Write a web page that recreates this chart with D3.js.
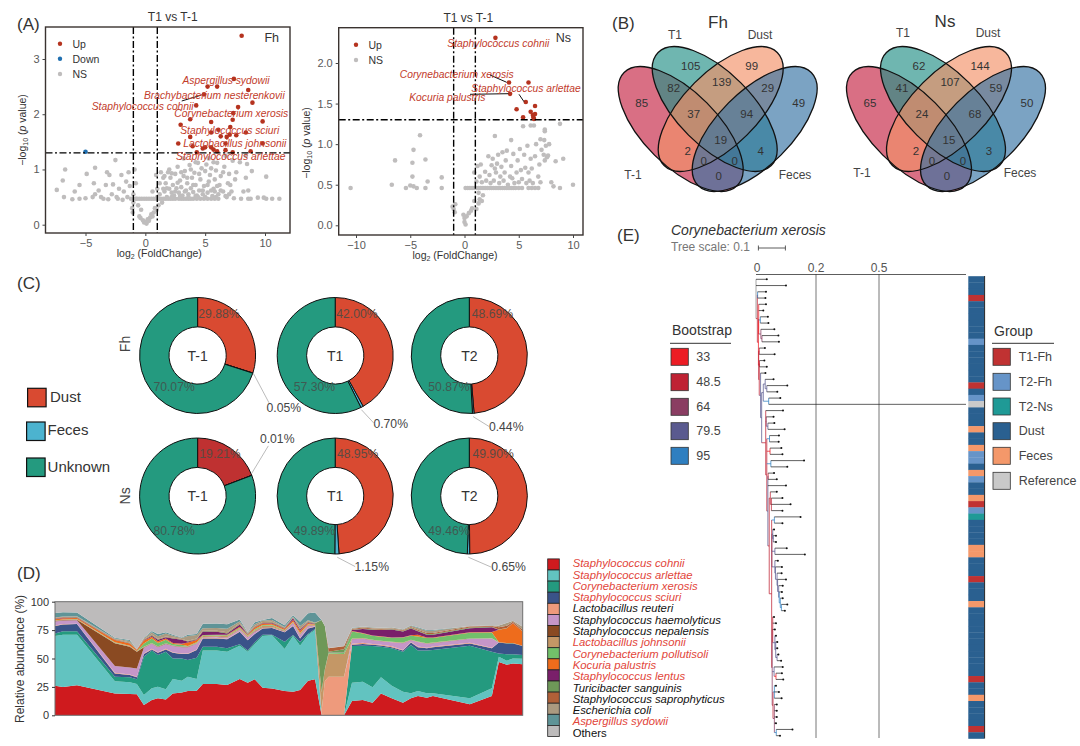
<!DOCTYPE html>
<html><head><meta charset="utf-8">
<script src="https://cdn.jsdelivr.net/npm/d3@7"></script>
<style>html,body{margin:0;padding:0;background:#fff}svg{display:block}text{font-family:"Liberation Sans",Arial,sans-serif}</style>
</head><body><svg id="c" width="1080" height="746"></svg>
<script>
// ---------- Panel A data ----------
const fhUp = [[8.05,3.42],[7.4,2.64],[5.2,2.5],[6,2.5],[8.6,2.44],[4.9,2.36],[8.95,2.21],[4.25,2.16],[7.75,2.13],[7.35,2.02],[7.3,1.9],[3.75,1.91],[5.5,1.86],[9.8,1.87],[2.95,1.81],[7.1,1.77],[6.1,1.72],[5.5,1.67],[8.4,1.67],[7.6,1.62],[7.05,1.63],[6.3,1.6],[6.8,1.59],[3.75,1.59],[6.7,1.47],[9.8,1.47],[2.75,1.47],[3.95,1.42],[5.5,1.4],[4.8,1.38],[5.7,1.36],[6.7,1.35],[6,1.33],[4.3,1.31],[7.3,1.31],[8.8,1.33],[5,1.4]];
const fhDown = [[-5,1.32]];
const fhNS = [[-7.4,.63],[-6.8,.5],[-6.7,1],[-6.9,.8],[-6.1,.46],[-5.9,.6],[-5.5,.47],[-5.5,.72],[-5,.48],[-4.9,.92],[-4.4,.5],[-4.3,.75],[-4.2,.55],[-4.2,1.03],[-3.9,.62],[-3.7,.5],[-3.5,.47],[-3.3,.72],[-3.1,.46],[-3.2,.95],[-3,.9],[-2.8,.55],[-2.7,.73],[-2.5,1.17],[-2.4,.5],[-2.3,.47],[-2.2,.65],[-2,.9],[-1.9,.45],[-1.8,.6],[-1.6,.78],[-1.5,.5],[-1.4,.95],[-1.3,.7],[-1.2,.47],[-1.1,.3],[-1.05,.22],[-1,.4],[-1,.55],[-.9,1],[-.8,.75],[-.7,.47],[-.6,.35],[-.5,.15],[-.4,.12],[-.35,.27],[-.2,.08],[-.1,.04],[0,.05],[.1,.02],[.2,.1],[.3,.07],[.4,.13],[.5,.19],[.6,.15],[.7,.22],[.8,.3],[.95,.27],[-.8,.47],[-.5,.47],[-.3,.47],[-.1,.47],[.1,.47],[.3,.47],[.5,.47],[.7,.47],[.9,.47],[1.1,.47],[1.3,.47],[1.5,.47],[1.7,.47],[1.9,.47],[2.1,.47],[2.3,.47],[2.5,.47],[2.8,.47],[3,.47],[3.2,.47],[3.4,.47],[3.6,.47],[3.8,.47],[4,.47],[4.3,.47],[4.6,.47],[4.9,.47],[5.2,.47],[5.5,.47],[5.8,.47],[6.1,.47],[.9,.9],[1,.65],[1.1,.35],[1.2,.55],[1.2,.75],[1.3,.95],[1.4,.4],[1.5,.65],[1.5,.85],[1.6,.6],[1.7,.75],[1.8,.5],[1.9,.95],[2,.65],[2,1],[2.1,.85],[2.2,.58],[2.3,.72],[2.4,.53],[2.5,.92],[2.6,.66],[2.7,1.05],[2.8,.58],[2.9,.8],[3,.68],[3.1,.53],[3.2,.88],[3.3,.97],[3.4,.62],[3.5,.75],[3.6,.55],[3.7,1.08],[3.8,.66],[3.9,.85],[4,.59],[4.1,.94],[4.2,.72],[4.3,.53],[4.4,1.12],[4.5,.62],[4.6,.82],[4.7,1.02],[4.8,.55],[4.9,.7],[5,.97],[5.1,1.09],[5.2,.58],[5.3,.78],[5.4,.9],[5.5,1.02],[5.6,.52],[5.7,.65],[5.8,.82],[5.9,.98],[6,1.12],[6.1,.55],[6.2,.72],[6.3,.88],[6.5,.6],[6.6,1.05],[6.8,.5],[6.9,.75],[7,.92],[7.2,.6],[7.3,1.16],[7.4,.48],[7.5,.82],[7.6,.95],[7.9,1.13],[8,.47],[8.2,.6],[8.4,.85],[8.5,1.1],[8.6,.47],[8.9,.97],[9.4,.49],[9.9,.49],[10.1,.47],[10.6,.47],[10.1,.87],[11.2,.47],[5.3,1.2],[5.7,1.13],[4.2,1.13],[3.2,1.2],[6.7,1.25],[8.4,1.25],[8.6,.62],[8.8,.47],[1.6,.88],[1.8,.66],[2.2,.93],[2.5,.6],[2.7,.76],[3,.95],[3.3,.6],[3.5,.85],[3.8,1],[4,.72],[4.2,.52],[4.5,.92],[4.8,.62],[5,.5],[5.2,.72],[5.5,.62],[5.8,.6],[6,.7],[6.3,.62],[6.5,.95],[6.7,.52],[7,.55],[7.1,.72],[2.2,.5],[2.9,.52],[3.6,.5],[4.4,.5],[5.9,.5],[.6,.6],[1,.5]];
const nsUp = [[2.85,2.31],[5.9,1.76],[4.1,1.76],[4.2,1.62],[5.65,1.52],[6.5,1.47],[4.8,1.43],[6.1,1.4],[6.5,1.37],[6.3,1.36],[5.4,1.33],[6.35,1.33],[6.4,1.31]];
const nsNS = [[-10.5,.46],[-6.7,.5],[-6.4,.8],[-5.4,.46],[-5,.49],[-4.8,.77],[-4.8,.6],[-4.7,.93],[-4.7,.48],[-4.4,.46],[-4.1,1.11],[-3.6,.46],[-3.6,.81],[-3.4,.54],[-2.1,.46],[-2.1,.59],[-1.1,.23],[-1,.2],[-.9,.16],[-.85,.26],[-.1,.13],[0,.09],[0,.04],[.1,.01],[.2,.11],[.4,.15],[.6,.18],[.7,.21],[.9,.3],[1.1,.2],[1.3,.27],[1.4,.32],[1.7,.37],[.1,.46],[.3,.46],[.5,.46],[.7,.46],[.9,.46],[1.1,.46],[1.3,.46],[1.5,.46],[1.7,.46],[1.9,.46],[2.1,.46],[2.3,.46],[2.5,.46],[2.7,.46],[2.9,.46],[3.1,.46],[3.3,.46],[3.5,.46],[3.7,.46],[3.9,.46],[4.1,.46],[4.3,.46],[4.5,.46],[4.7,.46],[5,.46],[5.3,.46],[5.9,.46],[6.2,.46],[6.5,.46],[6.8,.46],[.9,.65],[1.1,.54],[1.2,.73],[1.4,.6],[1.5,.75],[1.6,.53],[1.9,.66],[2,.55],[2.2,.85],[2.3,.62],[2.4,.52],[2.5,.74],[2.6,.82],[2.7,.55],[2.8,.7],[2.9,.65],[3,.76],[3.1,.87],[3.2,.52],[3.3,.6],[3.4,.72],[3.5,.9],[3.6,.55],[3.7,.65],[3.8,.8],[3.9,.92],[4,.5],[4.2,.6],[4.3,.73],[4.4,.58],[4.5,.88],[4.6,.52],[4.8,.65],[4.9,.8],[5,.53],[5.1,.94],[5.2,.68],[5.3,.57],[5.5,.87],[5.6,.71],[5.7,.52],[5.8,.98],[5.9,.65],[6,.55],[6.1,.82],[6.2,.7],[6.3,.52],[6.5,.85],[6.6,1],[6.8,.6],[6.9,.75],[7,1.06],[7,.53],[7.1,.93],[7.3,.87],[7.35,1.05],[7.4,.8],[7.4,1.16],[7.5,.98],[7.6,.84],[7.7,.86],[7.8,1],[8,.53],[8.2,.48],[8.4,.79],[8.8,.46],[9.1,.82],[10,.5],[5.4,1.22],[6.1,1.23],[6.4,1.23],[8.8,1.25],[7.4,1.18],[4.3,1.05],[2.8,1.1],[1.6,.3],[1.3,.4]];
const fhLabels = ["Aspergillus sydowii","Brachybacterium nesterenkovii","Staphylococcus cohnii","Corynebacterium xerosis","Staphylococcus sciuri","Lactobacillus johnsonii","Staphylococcus arlettae"];
const nsLabels = ["Staphylococcus cohnii","Corynebacterium xerosis","Staphylococcus arlettae","Kocuria palustris"];

// ---------- Panel B data ----------
const vennSets = ["T-1","T1","Dust","Feces"];
const vennFh = [85,105,99,49,82,139,29,37,94,2,19,4,0,0,0];
const vennNs = [65,62,144,50,41,107,59,24,68,2,15,3,0,0,0];

// ---------- Panel C data ----------
const sourceNames = ["Dust","Feces","Unknown"];
const donutFh = [[29.88,0.05,70.07],[42.00,0.70,57.30],[48.69,0.44,50.87]];
const donutNs = [[19.21,0.01,80.78],[48.95,1.15,49.89],[49.90,0.65,49.46]];
const donutTimes = ["T-1","T1","T2"];
const donutLabelsFh = [["29.88%","0.05%","70.07%"],["42.00%","0.70%","57.30%"],["48.69%","0.44%","50.87%"]];
const donutLabelsNs = [["19.21%","0.01%","80.78%"],["48.95%","1.15%","49.89%"],["49.90%","0.65%","49.46%"]];

// ---------- Panel D data ----------
const taxa = ["Staphylococcus cohnii","Staphylococcus arlettae","Corynebacterium xerosis","Staphylococcus sciuri","Lactobacillus reuteri","Staphylococcus haemolyticus","Staphylococcus nepalensis","Lactobacillus johnsonii","Corynebacterium pollutisoli","Kocuria palustris","Staphylococcus lentus","Turicibacter sanguinis","Staphylococcus saprophyticus","Escherichia coli","Aspergillus sydowii","Others"];
const taxaHighlighted = [1,1,1,1,0,0,0,1,1,1,1,0,0,0,1,0];
const samplePosition = [0,1.7,4.7,12.8,16,17.5,19,20.7,22,23.7,25.2,27.1,28.4,30.3,31.6,34.6,36.8,39.5,41.2,42.7,44.4,46.4,49.1,50.9,52.4,54.1,55.6,57,57.7,58.5,61.8,63.5,65.8,67.9,69.7,72,74.4,76.1,77.6,79.5,80.8,88.7,93.4,94.9,96.6,97.9,100];
const cohnii = [26,25,26.4,19.3,18.8,18.5,9,13.5,15,14,19.3,20,21.4,21.7,27.5,27.5,26.7,32,28.7,31.7,24.3,23.7,21.4,20.8,22.3,30.5,31.7,0,0,0,0,12.6,13.5,11,19.3,15,11,15,17,15.5,17,9.7,17,47,44.6,45.5,45];
const arlettae = [43.8,46,44.6,10.6,10.2,9,8.9,10.3,10.2,8.9,12.7,10.5,12.6,10.3,29.5,29.5,29.3,29.3,27.3,30.8,45.5,46.7,37,49,39,40.2,43.3,0,0,0,0,16.1,16.1,13.6,14.1,11,9.8,4.4,4.4,3.9,2.4,5.3,6.8,4.6,3.4,4.5,4.8];
const xerosis = [2.2,3,3,4,4.4,4.2,33.7,33.2,27.8,33.1,18,19.5,14.7,18.7,3.4,3.4,3,1.2,1,1.5,1.2,.6,6.4,.9,3.2,.8,1,.3,.1,.1,.1,32.3,31.7,36.4,27,33,35.2,42.5,35.6,37.6,38.1,46.3,32.2,2.9,5.7,3.7,3.2];
const sciuri = [6.6,6,6.3,3,2.1,1.7,2.4,1,2,2,5,4,5.3,6.8,7.3,7.3,8,11.1,9,7.5,5.5,5.9,8.2,7.9,3.2,5,2,.2,.1,.1,.1,1,1.5,1,1,1,1,2.1,3,2,2.5,2,3,9.5,9.6,9.6,8];
const reuteri = [.4,.4,.4,.5,.5,.5,.5,.5,.5,.5,.5,.5,.5,.5,.5,.5,.4,.4,.4,.3,.3,.3,.4,.4,.4,.4,.3,3,30,33.8,33.8,1,1,.8,.8,.7,.5,.5,.5,.5,.5,.5,.5,0,0,0,0];
const haemolyticus = [3.5,3,3,6,6,7.4,5,4.5,4.5,4.3,5.5,5.5,5.5,5,.4,.7,1,1.2,2.2,1.8,.3,.3,.4,2.2,2.6,1.7,.5,0,0,0,0,4,3.5,3.2,3,3.5,6,1.5,4,3.5,3,3.5,8,0,0,0,0];
const nepalensis = [.5,.5,.5,20,18.4,14.7,.5,.3,.3,.3,.3,.3,.3,.3,.3,.3,.3,.3,.2,.3,.3,.3,.3,.3,.3,.3,.2,0,0,0,0,.2,.2,.2,.2,.2,.2,.2,.1,.2,.2,.2,.2,.1,.1,.1,.1];
const johnsonii = [.3,.3,.3,.5,.5,.3,.3,.3,.3,.3,.2,.2,.2,.3,1,1,1.2,1,1,1,1.5,1.3,.6,.6,1,1,.5,17,10,20.5,20,.5,.5,.3,.3,.3,.3,.3,.3,.3,.3,.2,.2,.1,.1,.1,.1];
const pollutisoli = [.2,.2,.2,.3,.3,.2,3,4,3,3.2,1.2,1.5,.5,.7,.5,.5,.5,.5,.5,.8,.5,.5,.3,.3,.5,.3,.2,.2,.2,.5,1,6,4,3.5,3.5,3.5,4.5,3.5,4.5,4.5,4,5,5,.1,.1,.1,.1];
const palustris = [1,1,1,2,2,1,2.5,1.5,1.5,1,1,1,3,2,.3,.3,.4,1,.5,1.5,1.5,1.3,1.2,1.5,2,1,.5,.1,.1,.1,.1,.5,.5,.3,.3,.3,.3,.5,1.5,.5,.5,.5,.5,11,13,17.5,12.4];
const lentus = [.5,.5,.5,.3,.3,.2,.5,1,1.5,1,4,3.5,1,.5,3,2.5,1.3,2,.5,.5,.3,.5,.5,1.5,1,.8,.3,.1,.1,.1,.1,.8,3.5,5,5.5,7,5,6,3,2.5,2.5,3.5,4,.1,.1,.1,.1];
const sanguinis = [.3,.3,.3,.3,.3,.1,.3,.5,.4,.4,.4,.3,.4,.4,.5,.5,.5,.5,.4,.5,.5,.5,.3,.3,.5,.4,.5,63,38,.8,3,.4,.5,.4,.4,.4,.4,.5,.5,.5,.5,.5,.5,.1,.1,.1,.1];
const saprophyticus = [.3,.3,.3,.3,.2,.1,.3,.5,.4,.4,.4,.3,.3,.4,.5,.5,.5,.5,.4,.5,.5,.5,.3,.3,.5,.4,.2,.1,.1,3,2.5,.6,.7,.8,.7,.6,.6,.8,1,1,1,1,.8,2,2,1,1.5];
const ecoli = [.5,.5,.5,.5,1.4,.2,1,2,2.2,2.5,1.5,1,4,3,2,2.3,3,1.5,.5,1.5,1.2,1.5,.5,.8,2,.8,.4,0,0,.2,.2,.7,.7,.8,.7,.7,.8,1,1.5,2,2,.3,.3,1.5,2.5,.9,2.5];
const sydowii = [4,3.8,3.2,.6,.9,.1,.3,1,1.9,1.2,1,.4,1.2,1,4,4,4,1.9,.4,1.8,.5,1.8,1.5,1.2,3.9,6.2,9,0,0,.1,.2,.3,.3,.3,.3,.3,.2,.5,.5,.5,.5,.2,.2,.1,.1,.1,.1];
const others = [9.9,9.2,9.5,31.7,33.7,41.8,31.8,25.9,28.5,26.9,29,31.5,29.1,28.4,19.3,19.2,19.9,15.6,27,18,16.1,14.3,20.7,12,17.6,10.2,9.4,16,21.3,40.7,38.9,23,21.8,22.4,22.9,22.5,24.2,20.7,22.6,25,25,21.3,20.8,20.7,18.6,16.7,22];
const abundanceSeries = [cohnii,arlettae,xerosis,sciuri,reuteri,haemolyticus,nepalensis,johnsonii,pollutisoli,palustris,lentus,sanguinis,saprophyticus,ecoli,sydowii,others];

// ---------- Panel E data ----------
const bootstrapLevels = ["33","48.5","64","79.5","95"];
const groupNames = ["T1-Fh","T2-Fh","T2-Ns","Dust","Feces","Reference"];
// each internal node: [distance from root, bootstrap level, children]; each leaf: its distance from root
const phylogeny = [0,5,[.04,.111,
 [.005,1,[
  [.006,4,[.037,.035]],
  [.009,0,[
   [.010,0,[.037,.027,
     [.016,4,[.044,.046]],
     [.018,2,[.068,[.022,2,[.083,.085]]]]
   ]],
   [.010,1,[
    [.012,1,[.033,.069]],
    [.012,1,[
     [.013,1,[.031,.04]],
     [.017,3,[.035,
      [.021,3,[
       [.027,3,[
        [.034,3,[.065,[.04,3,[.116,.079]]]],
        [.047,4,[.09,.778]]
       ]],
       [.036,1,[.1,
        [.038,2,[.065,[.044,3,[.068,.106]]]],
        [.04,1,[
         [.05,4,[.085,.084]],
         [.052,0,[.094,.098]],
         [.055,4,[.178,.116]],
         [.044,3,[
          [.045,1,[.067,.077]],
          .111,
          [.049,1,[
           [.053,1,[.077,[.057,1,[.098,.128,.098]]]],
           [.058,1,[
            [.068,4,[.165,.098]],
            [.059,2,[
             [.062,3,[.067,[.064,3,[.074,.074]]]],
             [.07,3,[.114,.181]],
             [.07,3,[.081,[.072,3,[.096,[.078,3,[.095,[.08,3,[.111,[.084,3,[.099,[.086,4,[.096,[.09,4,[.099,[.094,4,[.116,.107]]]]]]]]]]]]]]]]
            ]],
            [.06,2,[
             [.062,1,[.067,.074,.07,[.07,3,[.074,[.073,3,[.079,.079,[.078,3,[.083,.093]]]]]]]],
             [.067,3,[.099,[.074,0,[.096,.101]]]],
             [.063,1,[
              [.068,4,[.074,.085,.095]],
              [.068,2,[.077,.077,.077,.074,[.075,4,[.135,.089]]]]
             ]]
            ]]
           ]]
          ]]
         ]]
        ]]
       ]]
      ]]
     ]]
    ]]
   ]]
  ]]
 ]]
]];
const leafGroups = ["Dust","Dust","Dust","T1-Fh","Dust","Dust","Dust","Dust","Dust","Dust","T2-Fh","Dust","Dust","Dust","Dust","Dust","Dust","T1-Fh","Dust","T2-Fh","Reference","Dust","Dust","Dust","Feces","Dust","Dust","Feces","T2-Fh","T2-Fh","Dust","Feces","T2-Fh","Dust","Dust","Feces","T1-Fh","T2-Fh","T2-Ns","Dust","Dust","Dust","Dust","Feces","Feces","Dust","Dust","Dust","T1-Fh","Dust","Dust","Dust","Feces","Dust","Dust","Dust","Dust","Dust","Dust","Dust","Dust","Dust","Dust","Dust","T1-Fh","Dust","Dust","Feces","Dust","Dust","Dust","Dust","T1-Fh","Dust"];

// ---------- Drawing ----------
const svg = d3.select("#c");
const ink = "#333";
function txt(x,y,s,o={}){
  return svg.append("text").attr("x",x).attr("y",y).text(s)
    .attr("font-size",o.size||12).attr("fill",o.fill||ink)
    .attr("text-anchor",o.anchor||"start").attr("dominant-baseline",o.base||"central")
    .attr("font-style",o.style||"normal").attr("transform",o.rot?`rotate(${o.rot} ${x} ${y})`:null);
}
[["(A)",17,24],["(B)",612,23],["(C)",17,283],["(D)",17,573],["(E)",617,235]].forEach(d=>txt(d[1],d[2],d[0],{size:17}));

function volcano(cfg){
  const x=d3.scaleLinear().domain(cfg.xd).range(cfg.xr), y=d3.scaleLinear().domain(cfg.yd).range(cfg.yr);
  const g=svg.append("g");
  const L=cfg.frame[0],R=cfg.frame[1],T=cfg.frame[2],B=cfg.frame[3];
  const dot=(pts,c)=>g.append("g").selectAll("circle").data(pts).join("circle").attr("cx",d=>x(d[0])).attr("cy",d=>y(d[1])).attr("r",2.3).attr("fill",c);
  dot(cfg.ns,"#bfbdbd"); dot(cfg.up,"#b5331f"); if(cfg.down) dot(cfg.down,"#1f6fb0");
  const dd="7 2.5 2 2.5";
  [-1,1].forEach(v=>g.append("line").attr("x1",x(v)).attr("x2",x(v)).attr("y1",T).attr("y2",B).attr("stroke","#000").attr("stroke-width",1.4).attr("stroke-dasharray",dd));
  g.append("line").attr("x1",L).attr("x2",R).attr("y1",y(1.3)).attr("y2",y(1.3)).attr("stroke","#000").attr("stroke-width",1.4).attr("stroke-dasharray",dd);
  g.append("rect").attr("x",L).attr("y",T).attr("width",R-L).attr("height",B-T).attr("fill","none").attr("stroke","#3a3330").attr("stroke-width",1.4);
  const ax=g.append("g").attr("transform",`translate(0,${B})`).call(d3.axisBottom(x).tickValues(cfg.xt).tickSize(3).tickSizeOuter(0));
  const ay=g.append("g").attr("transform",`translate(${L},0)`).call(d3.axisLeft(y).tickValues(cfg.yt).tickFormat(d3.format(cfg.yf)).tickSize(3).tickSizeOuter(0));
  [ax,ay].forEach(a=>{a.select(".domain").remove();a.selectAll("line").attr("stroke","#444");a.selectAll("text").attr("font-size",11).attr("fill","#5a5a5a").attr("font-family",'"Liberation Sans"');});
  cfg.labels.forEach((s,i)=>{const p=cfg.labelAt[i];txt(p[0],p[1],s,{size:10.3,style:"italic",fill:"#c23b2b",anchor:"middle"});});
  cfg.leaders.forEach(l=>g.append("line").attr("x1",l[0]).attr("y1",l[1]).attr("x2",l[2]).attr("y2",l[3]).attr("stroke","#111").attr("stroke-width",1));
  cfg.legend.forEach(k=>{g.append("circle").attr("cx",k[0]).attr("cy",k[1]).attr("r",2.2).attr("fill",k[3]);txt(k[0]+12.5,k[1],k[2],{size:10.5});});
  txt(cfg.title[0],cfg.title[1],"T1 vs T-1",{size:12,anchor:"middle"});
  txt(cfg.tag[0],cfg.tag[1],cfg.tag[2],{size:12.5,anchor:"middle"});
  const xl=svg.append("text").attr("x",cfg.xlab[0]).attr("y",cfg.xlab[1]).attr("text-anchor","middle").attr("font-size",10.5).attr("fill",ink);
  xl.append("tspan").text("log");xl.append("tspan").text("2").attr("font-size",7).attr("dy",2);xl.append("tspan").text(" (FoldChange)").attr("dy",-2);
  const yl=svg.append("text").attr("transform",`translate(${cfg.ylab[0]},${cfg.ylab[1]}) rotate(-90)`).attr("text-anchor","middle").attr("font-size",10.5).attr("fill",ink);
  yl.append("tspan").text("\u2212log");yl.append("tspan").text("10").attr("font-size",7).attr("dy",2);yl.append("tspan").text(" (").attr("dy",-2);yl.append("tspan").text("p").attr("font-style","italic");yl.append("tspan").text(" value)");
}
volcano({xd:[-5,10],xr:[85.5,265],yd:[0,3],yr:[224.7,59],frame:[45.5,290,27,233],xt:[-5,0,5,10],yt:[0,1,2,3],yf:"d",ns:fhNS,up:fhUp,down:fhDown,
 labels:fhLabels,labelAt:[[226,80.3],[214.3,95.3],[142.7,106.7],[231.3,113.3],[229.7,130.3],[234.7,143.7],[230.7,156.7]],leaders:[[181.7,101,201.7,95]],
 legend:[[60,43.7,"Up","#b5331f"],[60,58.7,"Down","#1f6fb0"],[60,74,"NS","#bfbdbd"]],title:[172.7,16.7],tag:[271.7,37.7,"Fh"],xlab:[159.3,257],ylab:[26,130]});
volcano({xd:[-10,10],xr:[356,573],yd:[0,2],yr:[225.3,63],frame:[338.7,583,27.7,235],xt:[-10,-5,0,5,10],yt:[0,.5,1,1.5,2],yf:".1f",ns:nsNS,up:nsUp,
 labels:nsLabels,labelAt:[[498.3,43.7],[456.7,74],[526,88.7],[447.3,97.3]],leaders:[[490,75,506.7,82.3],[470,94.3,508.3,93.7],[519,94.3,524,101.7]],
 legend:[[356,44.7,"Up","#b5331f"],[356,60,"NS","#bfbdbd"]],title:[468.3,18],tag:[563.3,38.3,"Ns"],xlab:[455,259],ylab:[310,143]});

// Venn
const vennColors=["#c52242","#228f86","#f29167","#3471a3"];
const vennEll=[[-37,11,1],[-3,-9,1],[3,-9,-1],[37,11,-1]];
const vennSlots=[[-76,-15],[-27,-52],[34,-52],[81,-15],[-44,-30],[4,-36],[50,-30],[-24,-4],[29,-4],[-30,33],[3,22],[43,33],[-14,43],[17,43],[1,58]];
function venn(cx,cy,vals,title,lab){
  const g=svg.append("g");
  vennEll.forEach((e,i)=>g.append("ellipse").attr("cx",cx+e[0]).attr("cy",cy+e[1]).attr("rx",80).attr("ry",37).attr("transform",`rotate(${e[2]*45} ${cx+e[0]} ${cy+e[1]})`).attr("fill",vennColors[i]).attr("fill-opacity",.65));
  vennEll.forEach((e,i)=>g.append("ellipse").attr("cx",cx+e[0]).attr("cy",cy+e[1]).attr("rx",80).attr("ry",37).attr("transform",`rotate(${e[2]*45} ${cx+e[0]} ${cy+e[1]})`).attr("fill","none").attr("stroke","#111").attr("stroke-width",1.3));
  vals.forEach((v,i)=>txt(cx+vennSlots[i][0],cy+vennSlots[i][1],v,{size:11.5,anchor:"middle"}));
  txt(title[0],title[1],title[2],{size:17,anchor:"middle"});
  vennSets.forEach((s,i)=>txt(lab[i][0],lab[i][1],s,{size:12,anchor:"middle",fill:"#444"}));
}
venn(717.7,118,vennFh,[718,22,"Fh"],[[633,175],[675,35],[760,35],[795,175]]);
venn(946,118,vennNs,[945,21,"Ns"],[[862,173],[903,33],[988,33],[1020,173]]);

// Donuts
const srcColors=["#d94a31","#4cb3cf","#249a7f"];
const pie=d3.pie().sort(null).startAngle(0).endAngle(2*Math.PI);
const arc=d3.arc().innerRadius(28.6).outerRadius(58);
const donutX=[197.6,335.2,469.3], donutY=[355.5,496];
[donutFh,donutNs].forEach((row,ri)=>row.forEach((vals,ci)=>{
  const g=svg.append("g").attr("transform",`translate(${donutX[ci]},${donutY[ri]})`);
  g.selectAll("path").data(pie(vals)).join("path").attr("d",arc)
   .attr("fill",(d,i)=>(i===0&&ri===1&&ci===0)?"#bf3131":srcColors[i]).attr("stroke","#111").attr("stroke-width",1);
  txt(donutX[ci],donutY[ri],donutTimes[ci],{size:14,anchor:"middle"});
}));
const labelRows=[donutLabelsFh,donutLabelsNs];
const pctTop=[[219,356.9,492.4],[220,357.6,493.1]], pctBot=[[174.1,314.5,449],[174.1,314.5,449]], rowTop=[313.8,453.8], rowBot=[387.2,531];
const pctOut=[[[283.8,408.3],[390.7,424.1],[506.2,426.9]],[[277.2,439],[371.7,566.9],[508.6,566.9]]];
const pctLead=[[[253.4,373.4,269,402.8],[361.4,409.7,374.1,423.4],[473.1,416.6,489.7,426.9]],[[251.7,473.4,268.3,445.9],[337.2,557.2,355.2,566.6],[468.3,557.2,491.4,567.2]]];
labelRows.forEach((row,ri)=>row.forEach((l,ci)=>{
  txt(pctTop[ri][ci],rowTop[ri],l[0],{size:12.2,anchor:"middle",fill:"#5c4a42"});
  txt(pctBot[ri][ci],rowBot[ri],l[2],{size:12.2,anchor:"middle",fill:"#3f5a52"});
  txt(pctOut[ri][ci][0],pctOut[ri][ci][1],l[1],{size:12.2,anchor:"middle",fill:"#444"});
  const p=pctLead[ri][ci];
  svg.append("line").attr("x1",p[0]).attr("y1",p[1]).attr("x2",p[2]).attr("y2",p[3]).attr("stroke","#aaa").attr("stroke-width",.8);
}));
txt(124.8,344,"Fh",{size:14,anchor:"middle",rot:-90,fill:"#444"});
txt(124.8,495.9,"Ns",{size:14,anchor:"middle",rot:-90,fill:"#444"});
[[27.6,388.3,50,396.2],[26.6,422,47.6,429.3],[26.6,458,47.6,466.6]].forEach((k,i)=>{
  svg.append("rect").attr("x",k[0]).attr("y",k[1]).attr("width",18.5).attr("height",18.5).attr("fill",srcColors[i]).attr("stroke","#111").attr("stroke-width",1.2);
  txt(k[2],k[3],sourceNames[i],{size:15});
});

// Stacked area
const dx=d3.scaleLinear().domain([0,100]).range([55,522.7]), dy=d3.scaleLinear().domain([0,100]).range([715.3,601.7]);
const taxaColors=["#cf1a1e","#62c3c0","#249a7f","#3a5389","#ee9a7c","#c596c8","#8a4a22","#c49766","#72c06a","#ee6c1c","#7a1f6a","#6e9858","#b06038","#ab9a80","#5f9497","#bdbbbb"];
const rows=samplePosition.map((p,i)=>{const r={p};taxa.forEach((t,k)=>r[t]=abundanceSeries[k][i]);return r;});
const stack=d3.stack().keys(taxa)(rows);
const area=d3.area().x(d=>dx(d.data.p)).y0(d=>dy(d[0])).y1(d=>dy(Math.min(d[1],100)));
svg.append("g").selectAll("path").data(stack).join("path").attr("d",area).attr("fill",(d,i)=>taxaColors[i]);
svg.append("rect").attr("x",55).attr("y",601.7).attr("width",467.7).attr("height",113.6).attr("fill","none").attr("stroke","#6e6e6e").attr("stroke-width",1);
const ady=svg.append("g").attr("transform","translate(55,0)").call(d3.axisLeft(dy).tickValues([0,25,50,75,100]).tickSize(3).tickSizeOuter(0));
ady.select(".domain").remove();ady.selectAll("line").attr("stroke","#333");ady.selectAll("text").attr("font-size",11).attr("fill",ink).attr("font-family",'"Liberation Sans"');
txt(20,659,"Relative abundance (%)",{size:12,anchor:"middle",rot:-90});
const swatchY=d3.scaleLinear().domain([0,16]).range([558.9,736.5]);
taxa.forEach((t,i)=>{
  svg.append("rect").attr("x",547.7).attr("y",swatchY(i)).attr("width",11.6).attr("height",swatchY(1)-swatchY(0)).attr("fill",taxaColors[i]).attr("stroke","#222").attr("stroke-width",.8);
  txt(572.7,563.2+i*11.3,t,{size:11.3,style:t==="Others"?"normal":"italic",fill:taxaHighlighted[i]?"#e2453a":"#111"});
});

// Tree
const treeRoot=d3.hierarchy(phylogeny,d=>Array.isArray(d)?d[2]:null);
const tx=d3.scaleLinear().domain([0,.1]).range([756,783]);
const leafY=d3.scaleLinear().domain([0,73]).range([279.3,735.7]);
let li=0;
treeRoot.eachAfter(n=>{
  if(!n.children){n.rank=li++;n.yy=leafY(n.rank);n.xx=Math.min(tx(n.data),966);}
  else{n.yy=(n.children[0].yy+n.children[n.children.length-1].yy)/2;n.xx=tx(n.data[0]);}
});
const bootColors=["#ec1c24","#bf2233","#8a3d62","#5a5a8f","#2f7fc0","#8a8a8a"];
const axisX=d3.scaleLinear().domain([0,.2,.5]).range([757,816,879]);
[.2,.5].forEach(v=>svg.append("line").attr("x1",axisX(v)).attr("x2",axisX(v)).attr("y1",274).attr("y2",738).attr("stroke","#777").attr("stroke-width",1));
svg.append("line").attr("x1",756).attr("x2",966).attr("y1",274.5).attr("y2",274.5).attr("stroke","#333").attr("stroke-width",.8);
[0,.2,.5].forEach(v=>txt(axisX(v),268,String(v),{size:12,anchor:"middle",fill:"#555"}));
const tg=svg.append("g");
treeRoot.descendants().forEach(n=>{
  const isLeaf=!n.children, c=isLeaf?"#222":bootColors[n.data[1]];
  if(n.parent) tg.append("line").attr("x1",n.parent.xx).attr("x2",n.xx).attr("y1",n.yy).attr("y2",n.yy).attr("stroke",c).attr("stroke-width",isLeaf?.8:1).attr("stroke-opacity",isLeaf?.9:.75);
  if(!isLeaf) tg.append("line").attr("x1",n.xx).attr("x2",n.xx).attr("y1",n.children[0].yy).attr("y2",n.children[n.children.length-1].yy).attr("stroke",c).attr("stroke-width",1).attr("stroke-opacity",.75);
  else if(n.xx<960) tg.append("circle").attr("cx",n.xx).attr("cy",n.yy).attr("r",1).attr("fill","#111");
});
const groupColors={"T1-Fh":"#c03232","T2-Fh":"#6694c8","T2-Ns":"#1f9a96","Dust":"#2a6090","Feces":"#f4986a","Reference":"#c9c9c9"};
const cellY=d3.scaleLinear().domain([0,74]).range([276.2,738.5]);
svg.append("g").selectAll("rect").data(leafGroups).join("rect").attr("x",968.3).attr("width",16).attr("y",(d,i)=>cellY(i)).attr("height",cellY(1)-cellY(0)+.3).attr("fill",d=>groupColors[d]);
svg.append("line").attr("x1",984.6).attr("x2",984.6).attr("y1",276).attr("y2",738.5).attr("stroke","#111").attr("stroke-width",.9);
txt(671,230,"Corynebacterium xerosis",{size:14,style:"italic"});
txt(671,247,"Tree scale: 0.1",{size:12,fill:"#777"});
svg.append("path").attr("d",`M${tx(.01)-.3},245.5V250.5M${tx(.01)-.3},248H${tx(.11)-.3}M${tx(.11)-.3},245.5V250.5`).attr("fill","none").attr("stroke","#333").attr("stroke-width",.8);
txt(672,335,"Bootstrap",{size:14,base:"auto"});
svg.append("line").attr("x1",670).attr("x2",731).attr("y1",343.3).attr("y2",343.3).attr("stroke","#333");
const bootSw=[348.3,373.7,398.3,422.7,447.3];
bootstrapLevels.forEach((b,i)=>{
  svg.append("rect").attr("x",671).attr("y",bootSw[i]).attr("width",17.3).attr("height",17).attr("fill",bootColors[i]).attr("stroke","#333").attr("stroke-width",.8);
  txt(696.3,bootSw[i]+8.5,b,{size:12.5,fill:"#444"});
});
txt(994,336,"Group",{size:14,base:"auto"});
svg.append("line").attr("x1",992).attr("x2",1054).attr("y1",343.3).attr("y2",343.3).attr("stroke","#333");
const groupSw=[348.3,373.3,398,422.7,447.3,472.3];
groupNames.forEach((b,i)=>{
  svg.append("rect").attr("x",993).attr("y",groupSw[i]).attr("width",17.3).attr("height",17).attr("fill",groupColors[b]).attr("stroke","#333").attr("stroke-width",.8);
  txt(1018.7,groupSw[i]+8.5,b,{size:12.5,fill:"#444"});
});
</script></body></html>
